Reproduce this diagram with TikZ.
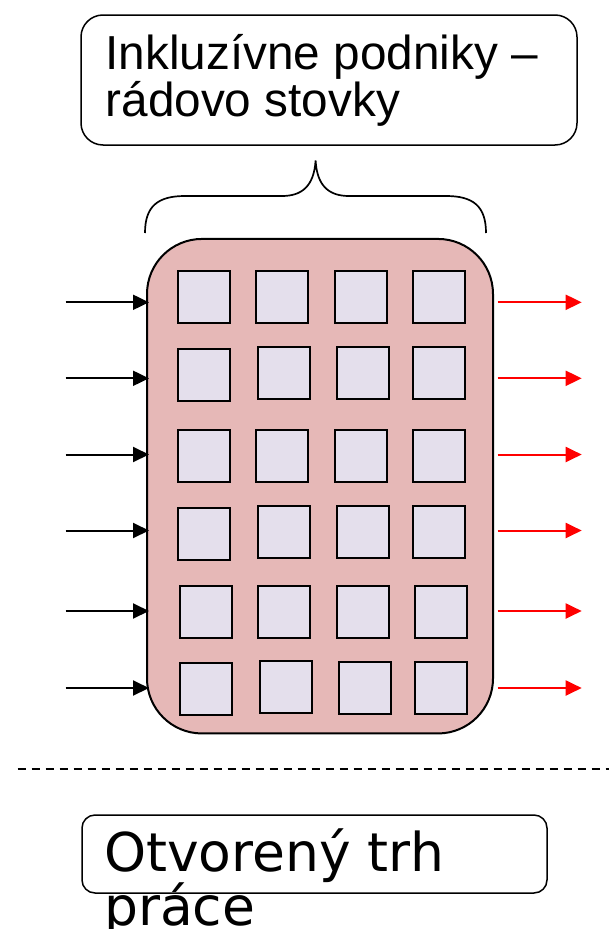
\documentclass[tikz,border=0pt]{standalone}
\usepackage{fontspec}
\newfontfamily\libsans{Liberation Sans}
\newfontfamily\dejasans{DejaVu Sans}
\usetikzlibrary{arrows.meta}
\definecolor{bigfill}{HTML}{E6B8B7}
\definecolor{sqfill}{HTML}{E4DFEC}
\begin{document}
\begin{tikzpicture}[x=1pt,y=-1pt,
  sq/.style={draw=black,line width=2pt,fill=sqfill,minimum size=52pt,inner sep=0pt},
  inarrow/.style={draw=black,line width=2pt,-{Triangle[length=16pt,width=15pt]}},
  outarrow/.style={draw=red,line width=2pt,-{Triangle[length=16pt,width=15pt]}},
  txtbox/.style={draw=black,line width=1.5pt,inner sep=0pt},
  toptext/.style={anchor=base west,inner sep=0pt,font=\libsans\fontsize{47.7}{47}\selectfont},
  bottext/.style={anchor=base west,inner sep=0pt,font=\dejasans\fontsize{53.5}{54}\selectfont}]
\useasboundingbox (0,0) rectangle (609,929);
% top text box
\node[txtbox,rounded corners=22pt,minimum width=496pt,minimum height=130pt] (topbox) at (329,80) {};
\node[toptext] (top1) at (105.5,69.5) {Inkluzívne podniky –};
\node[toptext] (top2) at (105.5,116.5) {rádovo stovky};
% brace
\draw[line width=1.7pt] (145,233) .. controls (145,206) and (158,196) .. (185,196) -- (282,196)
  .. controls (302,196) and (314,186) .. (315.6,160.5)
  .. controls (317,186) and (329,196) .. (349,196) -- (446,196)
  .. controls (473,196) and (486,206) .. (486,233);
% main block
\node[draw=black,line width=2pt,fill=bigfill,rounded corners=55pt,minimum width=346pt,minimum height=494.5pt,inner sep=0pt] (main) at (320,486.2) {};
% squares
\node[sq] (s11) at (204.2,297.3) {};
\node[sq] (s12) at (282.2,297.3) {};
\node[sq] (s13) at (361.3,297.3) {};
\node[sq] (s14) at (439.3,297.3) {};
\node[sq] (s21) at (204.2,375) {};
\node[sq] (s22) at (284.2,372.8) {};
\node[sq] (s23) at (363.3,373) {};
\node[sq] (s24) at (439.3,373) {};
\node[sq] (s31) at (204.2,455.8) {};
\node[sq] (s32) at (282.2,455.8) {};
\node[sq] (s33) at (361.3,455.8) {};
\node[sq] (s34) at (439.3,455.8) {};
\node[sq] (s41) at (204.2,533.7) {};
\node[sq] (s42) at (284.2,531.5) {};
\node[sq] (s43) at (363.3,531.5) {};
\node[sq] (s44) at (439.3,531.5) {};
\node[sq] (s51) at (206,611.5) {};
\node[sq] (s52) at (284.3,611.5) {};
\node[sq] (s53) at (363.2,611.5) {};
\node[sq] (s54) at (441.3,611.5) {};
\node[sq] (s61) at (206,689.4) {};
\node[sq] (s62) at (286.2,687.2) {};
\node[sq] (s63) at (365.3,687.5) {};
\node[sq] (s64) at (441.3,687.5) {};
% arrows
\foreach \i/\y in {1/302.3,2/378.3,3/454.5,4/530.5,5/611,6/688}{
  \coordinate (inS\i) at (65.7,\y);
  \coordinate (inE\i) at (149,\y);
  \coordinate (outS\i) at (497.7,\y);
  \coordinate (outE\i) at (581.7,\y);
  \draw[inarrow] (inS\i) -- (inE\i);
  \draw[outarrow] (outS\i) -- (outE\i);
}
% dashed separator
\coordinate (dashL) at (17.5,768.5);
\coordinate (dashR) at (609,768.5);
\draw[line width=2pt,dash pattern=on 8pt off 6pt] (dashL) -- (dashR);
% bottom text box
\node[txtbox,rounded corners=13pt,minimum width=465pt,minimum height=78pt] (botbox) at (314.5,854) {};
\node[bottext] (bot1) at (104,871) {Otvorený trh};
\node[bottext] (bot2) at (104,925) {práce};
\end{tikzpicture}
\end{document}
